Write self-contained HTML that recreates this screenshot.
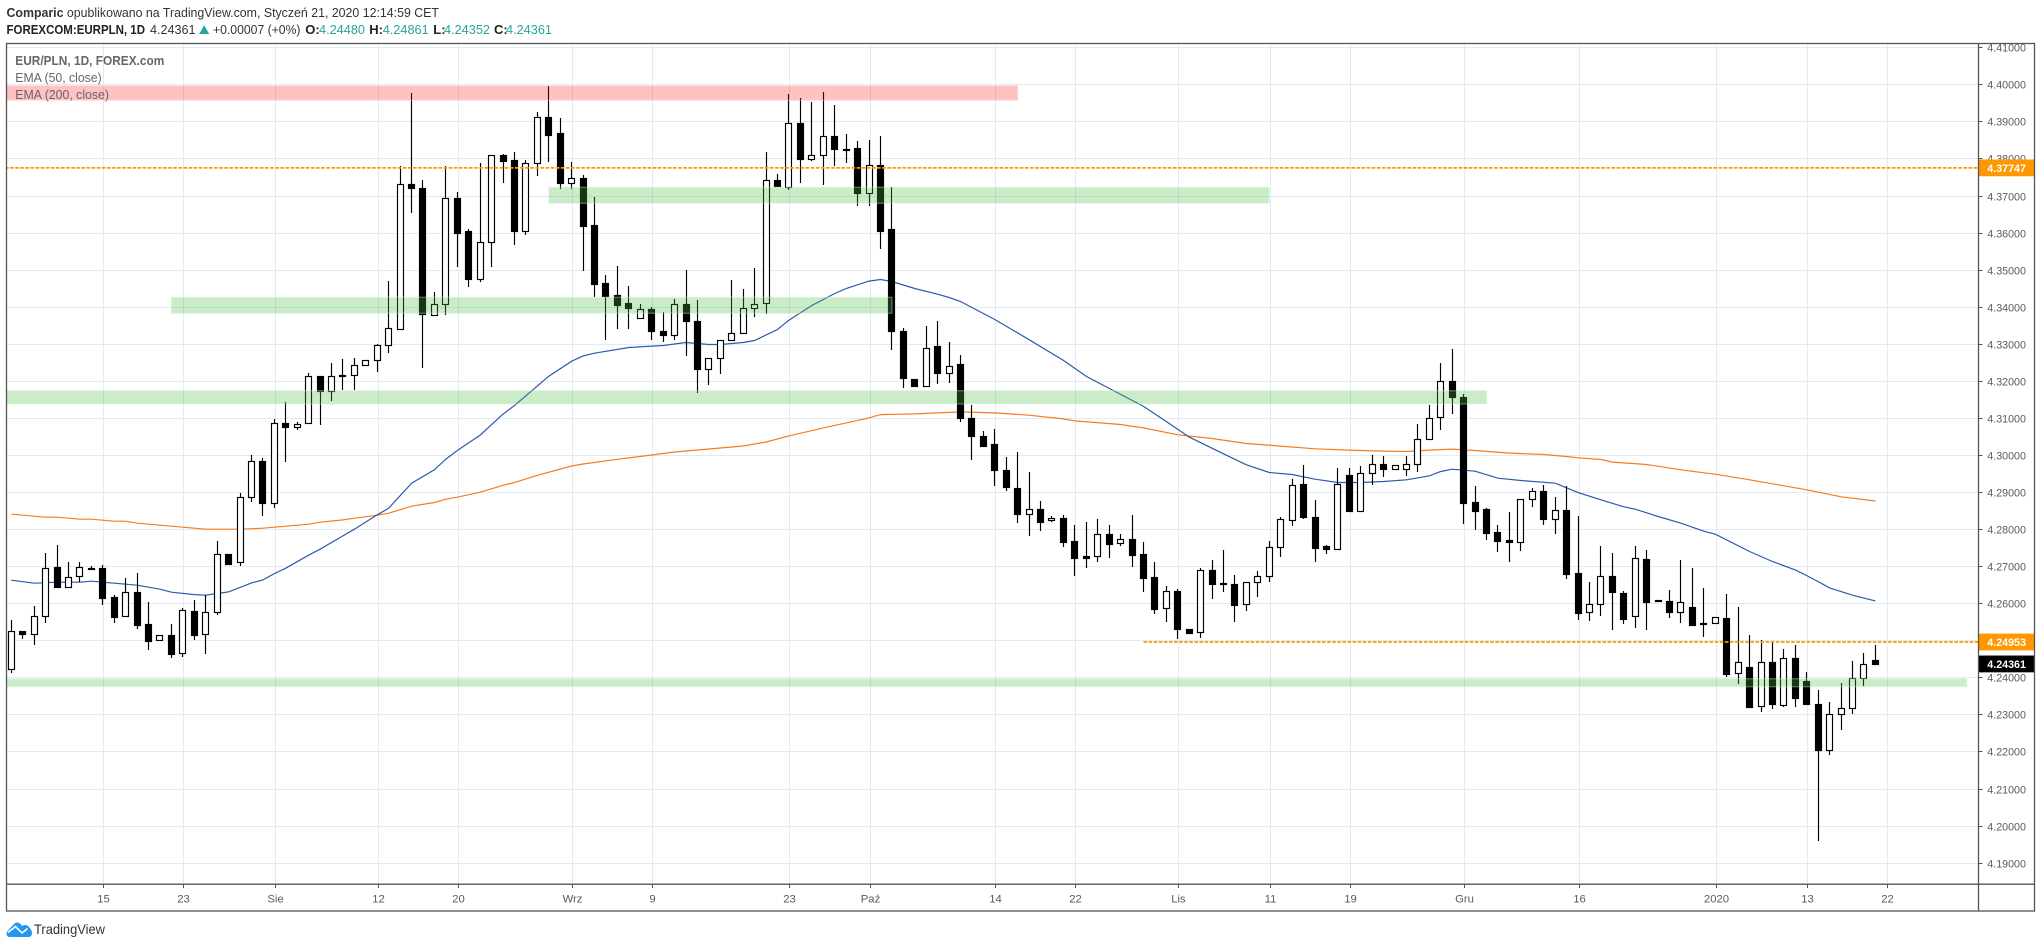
<!DOCTYPE html>
<html lang="pl">
<head>
<meta charset="utf-8">
<title>EUR/PLN, 1D</title>
<style>
html,body{margin:0;padding:0;background:#fff;width:2041px;height:948px;overflow:hidden}
svg{display:block;font-family:"Liberation Sans",sans-serif}
</style>
</head>
<body>
<svg id="chart" xmlns="http://www.w3.org/2000/svg" width="2041" height="948" viewBox="0 0 2041 948">
  <rect width="2041" height="948" fill="#ffffff"/>
  <text x="6.5" y="17" font-size="13" fill="#333" textLength="432.5" lengthAdjust="spacingAndGlyphs"><tspan font-weight="bold">Comparic</tspan> opublikowano na TradingView.com, Styczeń 21, 2020 12:14:59 CET</text>
  <text x="6.5" y="34" font-size="13" font-weight="bold" fill="#222" textLength="138.5" lengthAdjust="spacingAndGlyphs">FOREXCOM:EURPLN, 1D</text>
  <text x="150" y="34" font-size="13" fill="#333" textLength="45.5" lengthAdjust="spacingAndGlyphs">4.24361</text>
  <path d="M199.2 34 L204.2 25.3 L209.2 34 Z" fill="#26a69a"/>
  <text x="213" y="34" font-size="13" fill="#333" textLength="87.5" lengthAdjust="spacingAndGlyphs">+0.00007 (+0%)</text>
  <text x="305.3" y="34" font-size="13" font-weight="bold" fill="#222">O:</text>
  <text x="319" y="34" font-size="13" fill="#26a69a" textLength="46" lengthAdjust="spacingAndGlyphs">4.24480</text>
  <text x="369.3" y="34" font-size="13" font-weight="bold" fill="#222">H:</text>
  <text x="382.7" y="34" font-size="13" fill="#26a69a" textLength="46" lengthAdjust="spacingAndGlyphs">4.24861</text>
  <text x="433.3" y="34" font-size="13" font-weight="bold" fill="#222">L:</text>
  <text x="444" y="34" font-size="13" fill="#26a69a" textLength="46" lengthAdjust="spacingAndGlyphs">4.24352</text>
  <text x="494" y="34" font-size="13" font-weight="bold" fill="#222">C:</text>
  <text x="506" y="34" font-size="13" fill="#26a69a" textLength="46" lengthAdjust="spacingAndGlyphs">4.24361</text>

  <defs>
    <clipPath id="plotClip"><rect x="7" y="44" width="1971" height="840"/></clipPath>
  </defs>
  <g id="plot" clip-path="url(#plotClip)">
    <g id="grid"></g>
    <g id="emaLines"></g>
    <g id="candles"></g>
    <g id="zones"></g>
    <g id="levels"></g>
  </g>
  <text x="15.3" y="65" font-size="13" font-weight="bold" fill="#666" textLength="149" lengthAdjust="spacingAndGlyphs">EUR/PLN, 1D, FOREX.com</text>
  <text x="15.3" y="82" font-size="13" fill="#666" textLength="86.4" lengthAdjust="spacingAndGlyphs">EMA (50, close)</text>
  <text x="15.3" y="99" font-size="13" fill="#666" textLength="93.7" lengthAdjust="spacingAndGlyphs">EMA (200, close)</text>

  <g id="yAxis"></g>
  <g id="xAxis"></g>
  <g id="tags"></g>

  <rect x="6.5" y="43.5" width="2028" height="867.5" fill="none" stroke="#555" stroke-width="1.3"/>
  <line x1="1978.5" y1="43.5" x2="1978.5" y2="911" stroke="#555" stroke-width="1.3"/>
  <line x1="6.5" y1="884.2" x2="2034.5" y2="884.2" stroke="#555" stroke-width="1.3"/>

  <g>
    <path d="M9.5 937 C6.5 937 5.8 933 7.5 931 L14 924 C15.5 922.2 18 922 19.5 923.3 L22.5 926 C24 924.6 26.5 924.6 28 926 C30 928 32 930.5 32 933 C32 935.5 30.5 937 28.5 937 Z" fill="#2196f3"/>
    <path d="M8 932.5 L15.5 926.5 L22 933 L27.5 928.5" fill="none" stroke="#ffffff" stroke-width="1.6"/>
    <text x="34" y="934" font-size="14" fill="#333" textLength="71" lengthAdjust="spacingAndGlyphs">TradingView</text>
  </g>
</svg>
<script>
const opens=[4.24217,4.25243,4.2518,4.25648,4.26971,4.26431,4.26728,4.2695,4.26953,4.2617,
4.25648,4.26305,4.25441,4.25,4.25144,4.24649,4.25792,4.25162,4.25756,4.27322,
4.27106,4.28861,4.29833,4.28717,4.30859,4.30742,4.30859,4.32128,4.31723,4.32164,
4.32146,4.32425,4.3256,4.32965,4.33406,4.37321,4.37213,4.33784,4.34081,4.36943,
4.36034,4.34747,4.35755,4.38086,4.37951,4.36049,4.37867,4.39109,4.38686,4.37345,
4.37471,4.36202,4.34627,4.34303,4.34087,4.3370,4.33925,4.33358,4.3325,4.3406,
4.33628,4.32323,4.32629,4.33115,4.33295,4.33952,4.34087,4.37408,4.37237,4.38956,
4.37993,4.38083,4.38596,4.38255,4.38272,4.37057,4.37813,4.36085,4.33358,4.32062,
4.31873,4.32935,4.32215,4.32441,4.30994,4.30508,4.30292,4.2959,4.29104,4.2842,
4.28537,4.2824,4.28294,4.27673,4.27268,4.27268,4.27862,4.27619,4.27727,4.27322,
4.26701,4.25864,4.26323,4.25297,4.25216,4.2689,4.26539,4.26512,4.25972,4.26566,
4.26728,4.27511,4.2824,4.29212,4.28321,4.27538,4.27475,4.29455,4.28501,4.29509,
4.29752,4.29617,4.29617,4.29752,4.30427,4.31021,4.31993,4.31561,4.28726,4.28537,
4.27916,4.277,4.27646,4.28807,4.29023,4.28285,4.2851,4.26809,4.25756,4.25972,
4.26728,4.26269,4.25648,4.27187,4.26098,4.26062,4.25756,4.259,4.25477,4.25459,
4.25612,4.24118,4.24289,4.23218,4.24415,4.23245,4.24523,4.23902,4.23281,4.22039,
4.23011,4.23173,4.23983,4.2448];
const closes=[4.25243,4.2518,4.25648,4.26944,4.26449,4.26701,4.26971,4.26935,4.26152,4.25639,
4.26296,4.25423,4.24991,4.25135,4.2464,4.2581,4.25153,4.25756,4.27322,4.2707,
4.28861,4.29833,4.28717,4.30859,4.30742,4.30832,4.32128,4.31714,4.32128,4.32146,
4.32425,4.3256,4.32965,4.33415,4.37321,4.37204,4.33793,4.34081,4.36943,4.35989,
4.34747,4.35755,4.38104,4.37933,4.36043,4.37867,4.39109,4.38641,4.37336,4.37462,
4.36184,4.34618,4.34294,4.34051,4.3397,4.33925,4.33349,4.33241,4.3406,4.33619,
4.32323,4.32629,4.33115,4.33304,4.33952,4.3406,4.37408,4.37264,4.38947,4.37993,
4.38083,4.38596,4.38263,4.38245,4.37075,4.37813,4.36049,4.33349,4.3208,4.31864,
4.32899,4.32215,4.32413,4.30985,4.30499,4.30247,4.29581,4.29122,4.2842,4.28537,
4.28204,4.28294,4.27664,4.27232,4.27232,4.27862,4.2761,4.27727,4.27313,4.26692,
4.25855,4.26323,4.25315,4.25207,4.2689,4.2653,4.26539,4.25963,4.26566,4.26728,
4.27511,4.28267,4.29185,4.28339,4.27502,4.27475,4.29212,4.28492,4.29509,4.29752,
4.29608,4.29716,4.29752,4.30427,4.30994,4.31993,4.31552,4.28717,4.285,4.27907,
4.27691,4.27646,4.28807,4.29023,4.28285,4.2851,4.268,4.25747,4.25972,4.26728,
4.26296,4.25567,4.27214,4.26044,4.26053,4.25756,4.26035,4.25423,4.25432,4.25621,
4.24082,4.24415,4.23191,4.24415,4.23272,4.24523,4.23434,4.23272,4.2203,4.23011,
4.23173,4.23983,4.24361,4.24361];
const highs=[4.25549,4.25243,4.25927,4.27358,4.27574,4.27115,4.27115,4.27007,4.27034,4.26224,
4.26683,4.26818,4.26035,4.25135,4.25441,4.25864,4.26089,4.26215,4.27682,4.27322,
4.28978,4.30004,4.29923,4.30976,4.31435,4.30895,4.32209,4.32128,4.32488,4.32596,
4.32623,4.3256,4.33001,4.34684,4.37789,4.3976,4.37411,4.34387,4.37789,4.37087,
4.36088,4.37888,4.38104,4.38113,4.38167,4.37957,4.39253,4.39955,4.39082,4.37903,
4.37552,4.36958,4.34852,4.35095,4.34555,4.34069,4.33988,4.33853,4.34204,4.34987,
4.34177,4.32629,4.33115,4.34717,4.34474,4.35032,4.38173,4.3757,4.39739,4.39631,
4.39523,4.39793,4.39442,4.38659,4.3847,4.38497,4.38605,4.37228,4.33421,4.32062,
4.33475,4.3361,4.33043,4.32684,4.31345,4.30652,4.30706,4.2995,4.30085,4.29545,
4.28762,4.28348,4.28375,4.28114,4.28195,4.28276,4.28114,4.27871,4.28384,4.27655,
4.27115,4.26467,4.26386,4.25297,4.26944,4.27169,4.27439,4.26764,4.26566,4.26872,
4.27682,4.28321,4.29356,4.29734,4.2878,4.27565,4.29653,4.29653,4.29707,4.30004,
4.29977,4.29716,4.29977,4.30841,4.31345,4.32488,4.32866,4.31651,4.29167,4.28564,
4.28114,4.28465,4.28807,4.29113,4.29194,4.2887,4.29167,4.28357,4.26575,4.27547,
4.27358,4.26332,4.27547,4.27439,4.26098,4.26368,4.27169,4.26962,4.26422,4.25621,
4.2626,4.25909,4.25153,4.25018,4.24991,4.24775,4.24883,4.24154,4.23668,4.23344,
4.23857,4.24451,4.24667,4.24861];
const lows=[4.24127,4.25045,4.24883,4.25477,4.26422,4.26431,4.26566,4.26899,4.25963,4.25477,
4.25621,4.25315,4.24739,4.25,4.24532,4.24559,4.25009,4.2464,4.25693,4.2707,
4.27016,4.28744,4.28366,4.28582,4.29797,4.30661,4.30823,4.30796,4.31444,4.31741,
4.31741,4.32389,4.32227,4.3274,4.33361,4.36529,4.32335,4.33757,4.33784,4.35071,
4.34531,4.34666,4.35071,4.37339,4.35656,4.35941,4.37525,4.37903,4.37183,4.37183,
4.34969,4.34249,4.33106,4.33403,4.33403,4.33682,4.33106,4.33052,4.33106,4.32674,
4.31684,4.31891,4.32188,4.3307,4.33268,4.33727,4.33808,4.37237,4.37147,4.37345,
4.37939,4.37291,4.37795,4.37885,4.36724,4.36724,4.35563,4.32836,4.3181,4.31837,
4.31873,4.31918,4.31945,4.30884,4.29851,4.30229,4.29149,4.29041,4.28177,4.278,
4.27961,4.28204,4.27529,4.26746,4.26962,4.27124,4.27232,4.27556,4.26989,4.26314,
4.2572,4.25504,4.25045,4.25189,4.25072,4.26125,4.26314,4.25504,4.25801,4.26179,
4.26584,4.27259,4.28096,4.28285,4.27124,4.2734,4.27439,4.28465,4.28474,4.29194,
4.29392,4.29617,4.29437,4.29545,4.30427,4.30661,4.31093,4.2815,4.27988,4.27718,
4.27394,4.27124,4.27421,4.28609,4.28123,4.2788,4.26665,4.25558,4.25531,4.25666,
4.25288,4.2545,4.25342,4.25288,4.26053,4.25594,4.25459,4.25405,4.25081,4.25432,
4.24001,4.2383,4.23164,4.23074,4.23137,4.23191,4.23191,4.23272,4.19573,4.21913,
4.22588,4.23002,4.23758,4.24352];

const ema50Index=[0,2,4,6,7,9,11,13,14,16,17,19,21,22,23,24,26,27,29,30,32,33,35,37,38,39,41,43,44,47,49,50,51,54,57,59,61,62,64,65,67,68,70,72,73,75,76,77,79,81,82,83,84,85,86,89,92,94,96,99,101,103,106,108,110,112,114,116,118,120,122,124,125,126,128,130,132,135,137,139,141,142,144,146,148,149,152,154,156,157,158,159,161,163];
const ema50Values=[4.2662,4.26539,4.26566,4.26566,4.26593,4.26539,4.26485,4.26377,4.26296,4.26233,4.26215,4.26305,4.26548,4.26629,4.268,4.26944,4.27295,4.27457,4.27817,4.27997,4.28384,4.28564,4.29239,4.29599,4.29887,4.30121,4.30535,4.31102,4.31335,4.32125,4.3253,4.32674,4.32746,4.32899,4.32953,4.33034,4.3298,4.3298,4.33034,4.33088,4.33385,4.33637,4.34033,4.34357,4.34492,4.3469,4.34735,4.34681,4.34492,4.34339,4.34249,4.34141,4.33979,4.33817,4.33655,4.33109,4.32551,4.32119,4.31795,4.31309,4.30904,4.30481,4.30031,4.29734,4.29527,4.29473,4.29347,4.29257,4.29257,4.29284,4.29329,4.29437,4.29554,4.29617,4.29563,4.29374,4.29311,4.29239,4.28987,4.28789,4.286,4.28537,4.28339,4.28159,4.27943,4.27862,4.27394,4.27124,4.26899,4.26746,4.26584,4.26413,4.26215,4.26062];

const ema200Index=[0,3,4,6,7,9,10,11,14,17,20,22,26,27,29,30,32,33,35,37,38,39,41,43,44,46,49,50,53,56,58,61,64,66,68,71,73,75,76,79,83,86,89,92,93,97,99,102,105,108,111,114,117,120,122,124,126,128,131,134,136,137,139,140,143,146,148,149,152,155,157,160,163];
const ema200Values=[4.28402,4.28321,4.28321,4.28267,4.28267,4.28213,4.28213,4.28159,4.28078,4.27997,4.27997,4.28024,4.28132,4.28186,4.28249,4.28294,4.28375,4.28429,4.28618,4.28717,4.28807,4.28861,4.28996,4.2918,4.29255,4.2945,4.29703,4.29757,4.29883,4.3,4.30081,4.30162,4.30243,4.30351,4.30513,4.30729,4.30864,4.30999,4.31089,4.31107,4.31161,4.31134,4.31073,4.30974,4.3092,4.30821,4.30731,4.30544,4.30445,4.3031,4.30238,4.30166,4.3013,4.30103,4.30094,4.3013,4.30157,4.30121,4.30049,4.30013,4.29959,4.29923,4.29878,4.29806,4.29743,4.29599,4.29518,4.29482,4.29329,4.29167,4.29059,4.2887,4.28758];

const priceTicks=["4.41000","4.40000","4.39000","4.38000","4.37000","4.36000","4.35000","4.34000","4.33000","4.32000","4.31000","4.30000","4.29000","4.28000","4.27000","4.26000","4.25000","4.24000","4.23000","4.22000","4.21000","4.20000","4.19000"];
const dateTickIndex=[8,15,23,32,39,49,56,68,75,86,93,102,110,117,127,137,149,157,164];
const dateTickLabels=["15","23","Sie","12","20","Wrz","9","23","Paź","14","22","Lis","11","19","Gru","16","2020","13","22"];

const zoneNames=["resistance-zone-red","support-zone-4-34","support-zone-4-37","support-zone-4-315","support-zone-4-24"];
const zoneTop=[4.39964,4.34254,4.37222,4.31734,4.23963];
const zoneBottom=[4.3957,4.33822,4.36791,4.31375,4.23747];
const zoneStart=[-1,14,47,-1,-1];
const zoneEnd=[88,77,110,129,171];
const zoneKinds=["red","green","green","green","green"];

const levelNames=["level-4-37747","level-4-24953"];
const levelPrices=[4.37747,4.24953];
const levelStart=[-1,99];
const tagNames=["tag-4-37747","tag-4-24953","tag-last-price"];
const tagPrices=[4.37747,4.24953,4.24361];
const tagLabels=["4.37747","4.24953","4.24361"];
const tagColors=["#ff9800","#ff9800","#000000"];

const NS="http://www.w3.org/2000/svg";
function y(p){return 47.3+(4.41-p)*3706;}
function xf(i){return 11.3+i*11.436;}
function x(i){return Math.floor(xf(i))+0.5;}
function make(tag,attrs,parent){
  const el=document.createElementNS(NS,tag);
  for(const k in attrs){el.setAttribute(k,attrs[k]);}
  parent.appendChild(el);
  return el;
}
const gridG=document.getElementById("grid");
const yAxisG=document.getElementById("yAxis");
const xAxisG=document.getElementById("xAxis");
const emaG=document.getElementById("emaLines");
const candleG=document.getElementById("candles");
const zoneG=document.getElementById("zones");
const levelG=document.getElementById("levels");
const tagG=document.getElementById("tags");

priceTicks.forEach(function(label){
  const py=Math.round(y(parseFloat(label)))+0.5;
  const g=make("line",{x1:7,x2:1978,y1:py,y2:py,stroke:"#e1ecf2","stroke-width":1},gridG);
  
  
  const t=make("line",{x1:1978,x2:1982.5,y1:py,y2:py,stroke:"#555","stroke-width":1},yAxisG);
  
  
  const lab=make("text",{x:1987.3,y:py+4,"font-size":10.7,fill:"#5a5a5a"},yAxisG);
  
  
  lab.textContent=label;
});
dateTickIndex.forEach(function(idx,n){
  const px=x(idx)+1;
  const g=make("line",{x1:px,x2:px,y1:44,y2:884,stroke:"#e1ecf2","stroke-width":1},gridG);
  
  
  const t=make("line",{x1:px,x2:px,y1:884,y2:888,stroke:"#555","stroke-width":1},xAxisG);
  
  
  const lab=make("text",{x:px,y:902.7,"font-size":11.3,fill:"#5a5a5a","text-anchor":"middle"},xAxisG);
  
  
  lab.textContent=dateTickLabels[n];
});
function emaPath(indices,values){
  return indices.map(function(idx,n){return (n?"L":"M")+xf(idx).toFixed(1)+" "+y(values[n]).toFixed(1);}).join(" ");
}
const ema200Line=make("path",{d:emaPath(ema200Index,ema200Values),fill:"none",stroke:"#f57c20","stroke-width":1.2},emaG);


const ema50Line=make("path",{d:emaPath(ema50Index,ema50Values),fill:"none",stroke:"#2a5caa","stroke-width":1.2},emaG);



opens.forEach(function(o,i){
  const c=closes[i],cx=x(i),up=c>=o;
  const wick=make("line",{x1:cx,x2:cx,y1:Math.round(y(highs[i])),y2:Math.round(y(lows[i])),stroke:"#000","stroke-width":1.15},candleG);
  
  
  const top=Math.round(y(Math.max(o,c)));
  const bot=Math.round(y(Math.min(o,c)));
  const body=make("rect",{x:cx-3,y:top+0.5,width:6,height:Math.max(bot-top,1),fill:up?"#ffffff":"#000000",stroke:"#000","stroke-width":1.15},candleG);
  
  
});
zoneNames.forEach(function(name,n){
  const red=zoneKinds[n]==="red";
  const zy=y(zoneTop[n]);
  const zh=y(zoneBottom[n])-zy;
  const zx=xf(zoneStart[n]);
  const r=make("rect",{x:zx,y:zy,width:xf(zoneEnd[n])-zx,height:zh,fill:red?"rgba(255,0,0,0.245)":"rgba(76,190,70,0.29)",stroke:red?"rgba(255,210,210,0.35)":"rgba(215,240,215,0.35)","stroke-width":1.4},zoneG);
  
  
});
levelPrices.forEach(function(p,n){
  const ly=y(p);
  const l=make("line",{x1:xf(levelStart[n]),x2:1978,y1:ly,y2:ly,stroke:"#ff9800","stroke-width":1.7,"stroke-dasharray":"3.6 1.5"},levelG);
  
  
});
tagPrices.forEach(function(p,n){
  const ty=y(p);
  const r=make("rect",{x:1978,y:ty-8.4,width:56,height:16.8,fill:tagColors[n]},tagG);
  
  
  const t=make("text",{x:1987.3,y:ty+4,"font-size":10.7,"font-weight":"bold",fill:"#ffffff"},tagG);
  
  
  t.textContent=tagLabels[n];
});
</script>
</body>
</html>
